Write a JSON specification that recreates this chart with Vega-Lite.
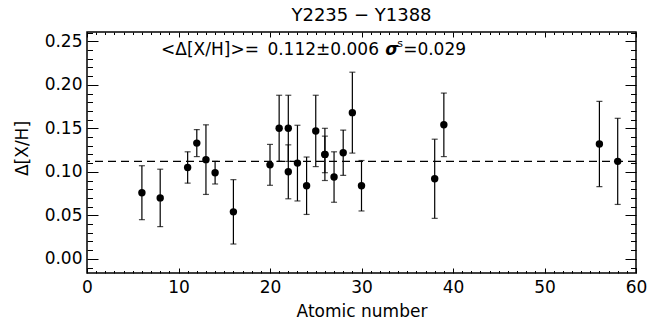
{
  "$schema": "https://vega.github.io/schema/vega-lite/v6.json",
  "width": 549,
  "height": 241,
  "autosize": "none",
  "padding": {"left": 87, "top": 32, "right": 26, "bottom": 58},
  "background": "white",
  "config": {
    "view": {"stroke": "black", "strokeWidth": 1.5},
    "font": "DejaVu Sans",
    "text": {"font": "DejaVu Sans", "color": "black"}
  },
  "title": {"text": "Y2235 − Y1388", "fontSize": 18, "fontWeight": "normal", "font": "DejaVu Sans", "color": "black", "offset": -1, "frame": "group", "anchor": "middle"},
  "datasets": {
    "abund": [
      {"z": 6, "el": "C", "val": 0.076, "err": 0.031},
      {"z": 8, "el": "O", "val": 0.070, "err": 0.033},
      {"z": 11, "el": "Na", "val": 0.105, "err": 0.018},
      {"z": 12, "el": "Mg", "val": 0.133, "err": 0.0155},
      {"z": 13, "el": "Al", "val": 0.114, "err": 0.040},
      {"z": 14, "el": "Si", "val": 0.099, "err": 0.013},
      {"z": 16, "el": "S", "val": 0.054, "err": 0.037},
      {"z": 20, "el": "Ca", "val": 0.108, "err": 0.0235},
      {"z": 21, "el": "Sc", "val": 0.150, "err": 0.038},
      {"z": 22, "el": "Ti I", "val": 0.150, "err": 0.038},
      {"z": 22, "el": "Ti II", "val": 0.100, "err": 0.031},
      {"z": 23, "el": "V", "val": 0.110, "err": 0.0435},
      {"z": 24, "el": "Cr", "val": 0.084, "err": 0.033},
      {"z": 25, "el": "Mn", "val": 0.147, "err": 0.041},
      {"z": 26, "el": "Fe I", "val": 0.120, "err": 0.030},
      {"z": 26, "el": "Fe II", "val": 0.120, "err": 0.021},
      {"z": 27, "el": "Co", "val": 0.094, "err": 0.029},
      {"z": 28, "el": "Ni", "val": 0.122, "err": 0.026},
      {"z": 29, "el": "Cu", "val": 0.168, "err": 0.0465},
      {"z": 30, "el": "Zn", "val": 0.084, "err": 0.029},
      {"z": 38, "el": "Sr", "val": 0.092, "err": 0.0455},
      {"z": 39, "el": "Y", "val": 0.154, "err": 0.0365},
      {"z": 56, "el": "Ba", "val": 0.132, "err": 0.049},
      {"z": 58, "el": "Ce", "val": 0.112, "err": 0.0495}
    ]
  },
  "layer": [
    {
      "data": {"values": [{}]},
      "mark": {"type": "rule", "color": "black", "strokeDash": [8, 5], "strokeWidth": 1.2},
      "encoding": {
        "y": {"datum": 0.112, "type": "quantitative", "scale": {"domain": [-0.0163, 0.2607], "nice": false, "zero": false}, "axis": null}
      }
    },
    {
      "data": {"name": "abund"},
      "mark": {"type": "errorbar", "color": "black", "ticks": {"size": 6, "color": "black", "thickness": 1.2}, "rule": {"color": "black", "strokeWidth": 1.2}},
      "encoding": {
        "x": {"field": "z", "type": "quantitative", "scale": {"domain": [0, 60], "nice": false, "zero": false}, "axis": null},
        "y": {"field": "val", "type": "quantitative", "scale": {"domain": [-0.0163, 0.2607], "nice": false, "zero": false}, "axis": null},
        "yError": {"field": "err"}
      }
    },
    {
      "data": {"name": "abund"},
      "mark": {"type": "circle", "size": 55, "color": "black", "opacity": 1},
      "encoding": {
        "x": {"field": "z", "type": "quantitative", "scale": {"domain": [0, 60], "nice": false, "zero": false},
          "axis": {"orient": "bottom", "values": [0,1,2,3,4,5,6,7,8,9,10,11,12,13,14,15,16,17,18,19,20,21,22,23,24,25,26,27,28,29,30,31,32,33,34,35,36,37,38,39,40,41,42,43,44,45,46,47,48,49,50,51,52,53,54,55,56,57,58,59,60],
            "tickSize": {"condition": {"test": "datum.value % 10 == 0", "value": -5}, "value": -2.5},
            "labelExpr": "datum.value % 10 == 0 ? datum.label : ''",
            "labelPadding": 11, "labelFontSize": 17, "labelColor": "black", "labelFont": "DejaVu Sans", "labelOverlap": false, "labelFlush": false, "labelBound": false,
            "tickColor": "black", "tickWidth": 1, "domain": false, "grid": false,
            "title": "Atomic number", "titleFontSize": 17, "titleFontWeight": "normal", "titleColor": "black", "titleFont": "DejaVu Sans", "titleY": 38, "titleBaseline": "middle"}},
        "y": {"field": "val", "type": "quantitative", "scale": {"domain": [-0.0163, 0.2607], "nice": false, "zero": false},
          "axis": {"orient": "left", "values": [-0.01,0,0.01,0.02,0.03,0.04,0.05,0.06,0.07,0.08,0.09,0.1,0.11,0.12,0.13,0.14,0.15,0.16,0.17,0.18,0.19,0.2,0.21,0.22,0.23,0.24,0.25,0.26],
            "tickSize": {"condition": {"test": "abs(round(datum.value*100)) % 5 == 0 && datum.value >= 0", "value": -11}, "value": -5.5},
            "labelExpr": "(round(datum.value*100) % 5 == 0 && datum.value >= 0) ? format(datum.value, '.2f') : ''",
            "labelPadding": 16, "labelFontSize": 17, "labelColor": "black", "labelFont": "DejaVu Sans", "labelOverlap": false, "labelFlush": false, "labelBound": false,
            "tickColor": "black", "tickWidth": 1, "domain": false, "grid": false,
            "title": "Δ[X/H]", "titleFontSize": 17, "titleFontWeight": "normal", "titleColor": "black", "titleFont": "DejaVu Sans", "titleX": -65, "titleY": 116, "titleBaseline": "middle", "titleAlign": "center", "titleAngle": -90}}
      }
    },
    {
      "data": {"values": [{}]},
      "mark": {"type": "text", "align": "left", "baseline": "middle", "fontSize": 17, "font": "DejaVu Sans", "color": "black"},
      "encoding": {
        "x": {"datum": 8.1, "type": "quantitative", "scale": {"domain": [0, 60], "nice": false, "zero": false}, "axis": null},
        "y": {"datum": 0.24, "type": "quantitative", "scale": {"domain": [-0.0163, 0.2607], "nice": false, "zero": false}, "axis": null},
        "text": {"value": "<Δ[X/H]>=\u20020.112±0.006"}
      }
    },
    {
      "data": {"values": [{}]},
      "mark": {"type": "text", "align": "left", "baseline": "middle", "fontSize": 17, "font": "DejaVu Sans", "fontWeight": "bold", "fontStyle": "italic", "color": "black"},
      "encoding": {
        "x": {"datum": 32.6, "type": "quantitative", "scale": {"domain": [0, 60], "nice": false, "zero": false}, "axis": null},
        "y": {"datum": 0.24, "type": "quantitative", "scale": {"domain": [-0.0163, 0.2607], "nice": false, "zero": false}, "axis": null},
        "text": {"value": "σ"}
      }
    },
    {
      "data": {"values": [{}]},
      "mark": {"type": "text", "align": "left", "baseline": "middle", "fontSize": 11, "font": "DejaVu Sans", "color": "black"},
      "encoding": {
        "x": {"datum": 33.9, "type": "quantitative", "scale": {"domain": [0, 60], "nice": false, "zero": false}, "axis": null},
        "y": {"datum": 0.2466, "type": "quantitative", "scale": {"domain": [-0.0163, 0.2607], "nice": false, "zero": false}, "axis": null},
        "text": {"value": "s"}
      }
    },
    {
      "data": {"values": [{}]},
      "mark": {"type": "text", "align": "left", "baseline": "middle", "fontSize": 17, "font": "DejaVu Sans", "color": "black"},
      "encoding": {
        "x": {"datum": 34.55, "type": "quantitative", "scale": {"domain": [0, 60], "nice": false, "zero": false}, "axis": null},
        "y": {"datum": 0.24, "type": "quantitative", "scale": {"domain": [-0.0163, 0.2607], "nice": false, "zero": false}, "axis": null},
        "text": {"value": "=0.029"}
      }
    },
    {
      "data": {"name": "abund"},
      "mark": {"type": "point", "opacity": 0},
      "encoding": {
        "x": {"field": "z", "type": "quantitative", "scale": {"domain": [0, 60], "nice": false, "zero": false},
          "axis": {"orient": "top", "values": [0,1,2,3,4,5,6,7,8,9,10,11,12,13,14,15,16,17,18,19,20,21,22,23,24,25,26,27,28,29,30,31,32,33,34,35,36,37,38,39,40,41,42,43,44,45,46,47,48,49,50,51,52,53,54,55,56,57,58,59,60],
            "tickSize": {"condition": {"test": "datum.value % 10 == 0", "value": -5}, "value": -2.5},
            "labels": false, "tickColor": "black", "tickWidth": 1, "domain": false, "grid": false, "title": null}},
        "y": {"field": "val", "type": "quantitative", "scale": {"domain": [-0.0163, 0.2607], "nice": false, "zero": false},
          "axis": {"orient": "right", "values": [-0.01,0,0.01,0.02,0.03,0.04,0.05,0.06,0.07,0.08,0.09,0.1,0.11,0.12,0.13,0.14,0.15,0.16,0.17,0.18,0.19,0.2,0.21,0.22,0.23,0.24,0.25,0.26],
            "tickSize": {"condition": {"test": "abs(round(datum.value*100)) % 5 == 0 && datum.value >= 0", "value": -11}, "value": -5.5},
            "labels": false, "tickColor": "black", "tickWidth": 1, "domain": false, "grid": false, "title": null}}
      }
    }
  ],
  "resolve": {"axis": {"x": "independent", "y": "independent"}}
}
